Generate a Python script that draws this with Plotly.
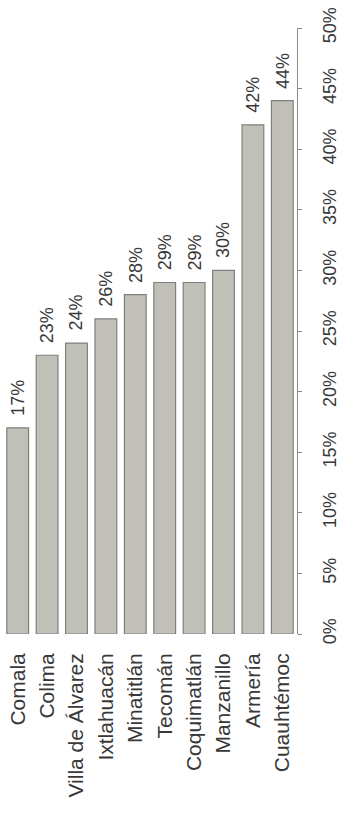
import plotly.graph_objects as go

municipios = ["Comala", "Colima", "Villa de Álvarez", "Ixtlahuacán", "Minatitlán",
              "Tecomán", "Coquimatlán", "Manzanillo", "Armería", "Cuauhtémoc"]
valores = [0.17, 0.23, 0.24, 0.26, 0.28, 0.29, 0.29, 0.30, 0.42, 0.44]
ticks_y = [0, 0.05, 0.10, 0.15, 0.20, 0.25, 0.30, 0.35, 0.40, 0.45, 0.50]
ticks_txt = ["0%", "5%", "10%", "15%", "20%", "25%", "30%", "35%", "40%", "45%", "50%"]

FONT = "Liberation Sans, Arial, sans-serif"
TXT = "#383838"

fig = go.Figure(go.Bar(
    x=municipios,
    y=valores,
    marker=dict(color="#c0bfb8", line=dict(color="#80807a", width=1.2)),
))

for m, v in zip(municipios, valores):
    fig.add_annotation(
        x=m, y=v, text=f"{round(v*100)}%",
        showarrow=False, textangle=-90,
        yanchor="bottom", xanchor="center", yshift=10,
        font=dict(family=FONT, size=18, color=TXT),
    )

fig.update_layout(
    width=353, height=824,
    margin=dict(l=3, r=56, t=28, b=190, autoexpand=False),
    plot_bgcolor="white", paper_bgcolor="white",
    bargap=0.26,
    showlegend=False,
    font=dict(family=FONT, color=TXT),
)
fig.update_xaxes(
    tickangle=-90,
    tickfont=dict(family=FONT, size=21, color=TXT),
    showline=False, showgrid=False, ticks="",
    ticklabelstandoff=14,
    automargin=False,
)
fig.update_yaxes(
    side="right",
    range=[0, 0.5],
    tickvals=ticks_y, ticktext=ticks_txt,
    tickangle=-90,
    tickfont=dict(family=FONT, size=18, color=TXT),
    showline=True, linecolor="#888", linewidth=1,
    ticks="outside", ticklen=4, tickcolor="#888",
    showgrid=False, zeroline=False,
    ticklabelstandoff=12,
    automargin=False,
)

fig.write_html("out.html", config={"displayModeBar": False},
               post_script="document.body.style.margin='0';")
